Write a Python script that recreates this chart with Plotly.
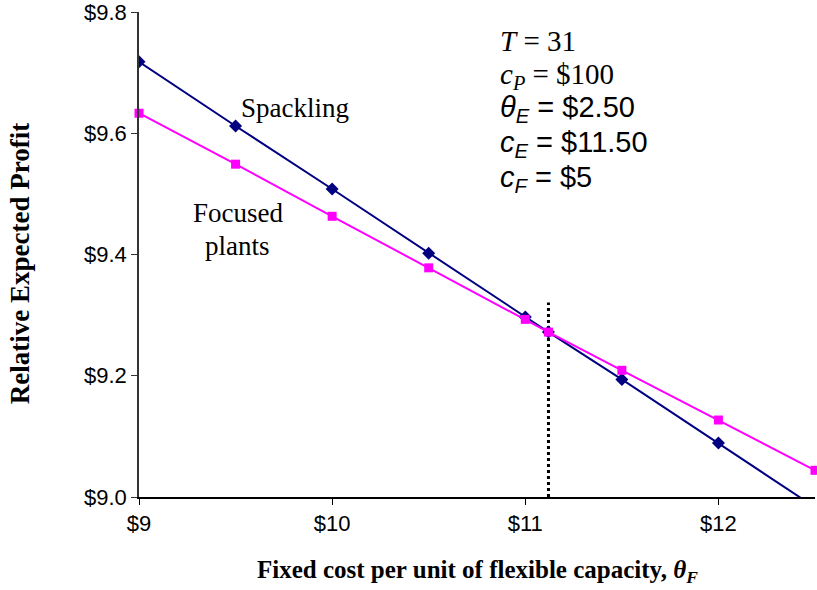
import plotly.graph_objects as go

# fixed cost per unit of flexible capacity
theta_f = [9, 9.5, 10, 10.5, 11, 11.12, 11.5, 12, 12.5]
spackling = [9.718, 9.612, 9.508, 9.402, 9.297, 9.272, 9.194, 9.089, 8.983]
focused = [9.633, 9.549, 9.463, 9.378, 9.293, 9.272, 9.209, 9.127, 9.044]

# breakeven marker
cut_x = [11.12, 11.12]
cut_y = [9.0, 9.321]

y_ticks = [9.0, 9.2, 9.4, 9.6, 9.8]
y_labels = ["$9.0", "$9.2", "$9.4", "$9.6", "$9.8"]
x_ticks = [9, 10, 11, 12]
x_labels = ["$9", "$10", "$11", "$12"]

serif = "Liberation Serif, Times New Roman, serif"
sans = "Liberation Sans, Arial, sans-serif"

fig = go.Figure()
fig.add_trace(go.Scatter(x=cut_x, y=cut_y, mode="lines",
                         line=dict(color="black", width=3, dash="dot"),
                         showlegend=False))
fig.add_trace(go.Scatter(x=theta_f, y=spackling, mode="lines+markers", name="Spackling",
                         line=dict(color="#000080", width=2),
                         marker=dict(symbol="diamond", size=10, color="#000080"),
                         showlegend=False))
fig.add_trace(go.Scatter(x=theta_f, y=focused, mode="lines+markers", name="Focused plants",
                         line=dict(color="#FF00FF", width=2),
                         marker=dict(symbol="square", size=9, color="#FF00FF"),
                         showlegend=False, cliponaxis=False))

notes = [
    (9.81, 9.642, "Spackling"),
    (9.51, 9.469, "Focused"),
    (9.51, 9.414, "plants"),
]
for x, y, t in notes:
    fig.add_annotation(x=x, y=y, text=t, showarrow=False, xanchor="center", yanchor="middle",
                       font=dict(family=serif, size=27, color="black"))

params = [
    (9.752, "<i>T</i> = 31", serif),
    (9.694, "<i>c<sub>P</sub></i> = $100", serif),
    (9.640, "<i>θ<sub>E</sub></i> = $2.50", sans),
    (9.582, "<i>c<sub>E</sub></i> = $11.50", sans),
    (9.524, "<i>c<sub>F</sub></i> = $5", sans),
]
for y, t, f in params:
    fig.add_annotation(x=10.86, y=y, text=t, showarrow=False, xanchor="left", yanchor="middle",
                       font=dict(family=f, size=29, color="black"))

# axis titles
fig.add_annotation(xref="paper", yref="paper", x=0.5, y=-0.153, showarrow=False,
                   xanchor="center", yanchor="middle",
                   text="<b>Fixed cost per unit of flexible capacity, <i>θ<sub>F</sub></i></b>",
                   font=dict(family=serif, size=25, color="black"))
fig.add_annotation(xref="paper", yref="paper", x=-0.176, y=0.48, showarrow=False, textangle=-90,
                   xanchor="center", yanchor="middle",
                   text="<b>Relative Expected Profit</b>",
                   font=dict(family=serif, size=27, color="black"))

fig.update_layout(
    template="none",
    width=817, height=590,
    margin=dict(l=139, r=2, t=12, b=93),
    plot_bgcolor="white", paper_bgcolor="white",
    xaxis=dict(range=[9, 12.5], tickvals=x_ticks, ticktext=x_labels, automargin=False,
               showgrid=False, zeroline=False, showline=True, linecolor="black", linewidth=1.5,
               ticks="outside", ticklen=6, tickcolor="black", ticklabeloverflow="allow",
               tickfont=dict(family=sans, size=22, color="black")),
    yaxis=dict(range=[9.0, 9.8], tickvals=y_ticks, ticktext=y_labels, automargin=False,
               showgrid=False, zeroline=False, showline=True, linecolor="#333", linewidth=1.5,
               ticks="outside", ticklen=6, tickcolor="#333", ticklabeloverflow="allow",
               tickfont=dict(family=sans, size=22, color="black")),
)

fig.write_html("out.html", config={"displayModeBar": False},
               post_script="document.body.style.margin='0';")
